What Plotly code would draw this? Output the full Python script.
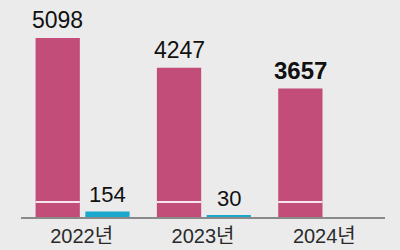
import plotly.graph_objects as go

years = ["2022년", "2023년", "2024년"]
pink_values = [5098, 4247, 3657]
blue_values = [154, 30, None]
pink_labels = ["5098", "4247", "3657"]
blue_labels = ["154", "30", ""]

PINK = "#C24D78"
BLUE = "#1BA8CC"
BG = "#EBEBEB"
FONT = "Liberation Sans, Arial, Noto Sans CJK KR, sans-serif"

W = 0.365
OFF_P = -0.38
OFF_B = 0.03
BREAK_LEVEL = 430

fig = go.Figure()
fig.add_trace(go.Bar(x=years, y=pink_values, marker_color=PINK, width=W, offset=OFF_P,
                     marker_line_width=0, hoverinfo="skip"))
fig.add_trace(go.Bar(x=years, y=[v if v is not None else 0 for v in blue_values],
                     marker_color=BLUE, width=W, offset=OFF_B,
                     marker_line_width=0, hoverinfo="skip"))

annotations = []
shapes = []
for i, (pv, pl) in enumerate(zip(pink_values, pink_labels)):
    bold = i == 2
    annotations.append(dict(
        x=i + OFF_P + W / 2, y=pv, xref="x", yref="y", text=f"<b>{pl}</b>" if bold else pl,
        showarrow=False, yanchor="bottom", yshift=3,
        font=dict(family=FONT, size=24 if bold else 23, color="#111")))
    shapes.append(dict(type="line", xref="x", yref="y",
                       x0=i + OFF_P, x1=i + OFF_P + W, y0=BREAK_LEVEL, y1=BREAK_LEVEL,
                       line=dict(color="#F6E6EC", width=2)))
for i, (bv, bl) in enumerate(zip(blue_values, blue_labels)):
    if bv is None:
        continue
    annotations.append(dict(
        x=i + OFF_B + W / 2, y=bv, xref="x", yref="y", text=bl,
        showarrow=False, yanchor="bottom", yshift=3,
        font=dict(family=FONT, size=22, color="#111")))

fig.update_layout(
    width=400, height=250,
    margin=dict(l=21, r=15, t=0, b=33),
    paper_bgcolor=BG, plot_bgcolor=BG,
    showlegend=False,
    barmode="group",
    annotations=annotations,
    shapes=shapes,
    xaxis=dict(type="category", range=[-0.5, 2.5], showgrid=False, zeroline=False,
               showline=True, linecolor="#8A8A8A", linewidth=2,
               ticks="", tickfont=dict(family=FONT, size=20, color="#2A2A2A")),
    yaxis=dict(range=[0, 6180], visible=False, showgrid=False, zeroline=False),
)

fig.write_html("out.html")
